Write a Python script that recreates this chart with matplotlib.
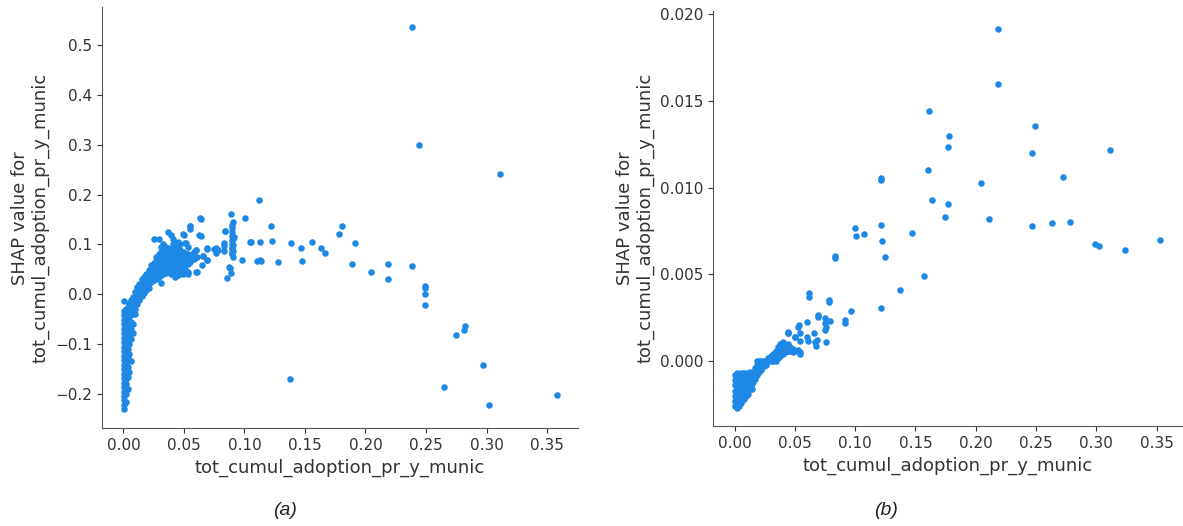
import matplotlib
matplotlib.use("Agg")
import matplotlib.pyplot as plt

# panel (a): SHAP values, sparse points
a_sparse_x = [0.2387, 0.2444, 0.3115, 0.1807, 0.1779, 0.1911, 0.1890, 0.2043, 0.2183, 0.2183,
              0.2384, 0.2494, 0.2494, 0.2494, 0.2494, 0.2826, 0.2815, 0.2747, 0.2969, 0.2650,
              0.3021, 0.3580, 0.1120, 0.0886, 0.1004, 0.1216, 0.1224, 0.1048, 0.1125, 0.1384,
              0.1562, 0.1466, 0.1636, 0.1664, 0.1477, 0.1274, 0.1125, 0.1106, 0.0979, 0.0872,
              0.0886, 0.0853, 0.0908, 0.0837, 0.0914, 0.1375, 0.0763, 0.0780, 0.0694, 0.0661,
              0.0688, 0.0647, 0.0831, 0.0831, 0.0639, 0.0639, 0.0633, 0.0548, 0.0548, 0.0622,
              0.0501, 0.0515, 0.0598, 0.0694, 0.0658, 0.0688, 0.0611, 0.0534, 0.0480, 0.0537,
              0.0606, 0.0749, 0.0763, 0.0837, 0.0831, 0.0880, 0.1134, 0.1051]
a_sparse_y = [0.535, 0.300, 0.242, 0.137, 0.121, 0.103, 0.061, 0.045, 0.061, 0.030,
              0.057, 0.017, 0.013, 0.000, -0.021, -0.064, -0.071, -0.081, -0.141, -0.186,
              -0.221, -0.202, 0.190, 0.162, 0.153, 0.138, 0.107, 0.105, 0.105, 0.103,
              0.104, 0.092, 0.092, 0.082, 0.066, 0.065, 0.069, 0.067, 0.069, 0.054,
              0.043, 0.033, 0.145, 0.127, 0.114, -0.169, 0.092, 0.089, 0.092, 0.077,
              0.068, 0.058, 0.103, 0.086, 0.151, 0.117, 0.153, 0.138, 0.130, 0.118,
              0.118, 0.103, 0.088, 0.091, 0.077, 0.069, 0.075, 0.062, 0.053, 0.040,
              0.045, 0.090, 0.083, 0.127, 0.097, 0.053, 0.067, 0.105]

# vertical strip at x = 0.0895
a_strip_x = [0.0895, 0.0895, 0.0895, 0.0895, 0.0895, 0.0895, 0.0895, 0.0895, 0.0895, 0.0895,
             0.0905, 0.0905, 0.0905, 0.0905]
a_strip_y = [0.140, 0.132, 0.124, 0.116, 0.108, 0.100, 0.095, 0.090, 0.085, 0.080,
             0.075, 0.110, 0.098, 0.087]

# dense part near the origin and along the rising curve
a_dense_x = [0.0005, 0.0005, 0.0005, 0.0005, 0.0005, 0.0005, 0.0005, 0.0005, 0.0005, 0.0005,
             0.0005, 0.0005, 0.0005, 0.0005, 0.0005, 0.0005, 0.0005, 0.0005, 0.0005, 0.0005,
             0.0005, 0.0005, 0.0005, 0.0005,
             0.002, 0.002, 0.002, 0.002, 0.002, 0.002, 0.002, 0.002, 0.002, 0.002,
             0.002, 0.002, 0.002, 0.002, 0.002, 0.002, 0.002, 0.002, 0.002,
             0.0035, 0.0035, 0.0035, 0.0035, 0.0035, 0.0035, 0.0035, 0.0035, 0.0035, 0.0035,
             0.0035, 0.0035,
             0.005, 0.005, 0.005, 0.005, 0.005, 0.005, 0.005, 0.005, 0.005, 0.005,
             0.0065, 0.0065, 0.0065, 0.0065, 0.0065, 0.0065, 0.0065, 0.0065,
             0.008, 0.008, 0.008, 0.008, 0.008, 0.008,
             0.0095, 0.0095, 0.0095, 0.0095, 0.0095,
             0.011, 0.011, 0.011, 0.011, 0.011,
             0.013, 0.013, 0.013, 0.013, 0.013,
             0.015, 0.015, 0.015, 0.015, 0.015,
             0.017, 0.017, 0.017, 0.017, 0.017,
             0.019, 0.019, 0.019, 0.019, 0.019,
             0.021, 0.021, 0.021, 0.021, 0.021,
             0.023, 0.023, 0.023, 0.023, 0.023,
             0.025, 0.025, 0.025, 0.025, 0.025, 0.025,
             0.027, 0.027, 0.027, 0.027, 0.027, 0.027,
             0.029, 0.029, 0.029, 0.029, 0.029, 0.029, 0.029,
             0.031, 0.031, 0.031, 0.031, 0.031, 0.031, 0.031, 0.031,
             0.033, 0.033, 0.033, 0.033, 0.033, 0.033, 0.033,
             0.035, 0.035, 0.035, 0.035, 0.035, 0.035, 0.035,
             0.037, 0.037, 0.037, 0.037, 0.037, 0.037, 0.037,
             0.039, 0.039, 0.039, 0.039, 0.039, 0.039, 0.039, 0.039,
             0.041, 0.041, 0.041, 0.041, 0.041, 0.041, 0.041, 0.041,
             0.043, 0.043, 0.043, 0.043, 0.043, 0.043, 0.043,
             0.045, 0.045, 0.045, 0.045, 0.045, 0.045, 0.045,
             0.047, 0.047, 0.047, 0.047, 0.047, 0.047,
             0.049, 0.049, 0.049, 0.049, 0.049, 0.049,
             0.051, 0.051, 0.051, 0.051, 0.051,
             0.053, 0.053, 0.053, 0.053, 0.053,
             0.055, 0.055, 0.055,
             0.058, 0.058, 0.058,
             0.060, 0.060, 0.060]
a_dense_y = [-0.230, -0.222, -0.212, -0.204, -0.195, -0.186, -0.177, -0.168, -0.159, -0.150,
             -0.141, -0.132, -0.123, -0.114, -0.105, -0.096, -0.087, -0.078, -0.069, -0.060,
             -0.051, -0.042, -0.033, -0.013,
             -0.215, -0.200, -0.190, -0.180, -0.170, -0.160, -0.150, -0.140, -0.130, -0.120,
             -0.110, -0.100, -0.090, -0.080, -0.070, -0.060, -0.050, -0.040, -0.030,
             -0.190, -0.165, -0.145, -0.125, -0.110, -0.095, -0.080, -0.065, -0.050, -0.040,
             -0.030, -0.025,
             -0.155, -0.120, -0.100, -0.085, -0.070, -0.055, -0.045, -0.035, -0.025, -0.018,
             -0.133, -0.090, -0.070, -0.055, -0.040, -0.030, -0.020, -0.012,
             -0.078, -0.060, -0.040, -0.028, -0.015, -0.005,
             -0.040, -0.030, -0.018, -0.005, 0.005,
             -0.020, -0.010, 0.000, 0.010, 0.015,
             -0.012, -0.003, 0.005, 0.012, 0.020,
             -0.004, 0.005, 0.015, 0.022, 0.030,
             0.002, 0.010, 0.020, 0.028, 0.035,
             0.008, 0.015, 0.025, 0.033, 0.040,
             0.012, 0.020, 0.030, 0.038, 0.048,
             0.025, 0.035, 0.042, 0.050, 0.058,
             0.028, 0.038, 0.046, 0.054, 0.062, 0.110,
             0.030, 0.040, 0.050, 0.058, 0.066, 0.075,
             0.035, 0.045, 0.053, 0.061, 0.070, 0.080, 0.111,
             0.022, 0.038, 0.048, 0.056, 0.064, 0.072, 0.085, 0.095,
             0.040, 0.050, 0.058, 0.066, 0.074, 0.090, 0.100,
             0.042, 0.052, 0.060, 0.068, 0.076, 0.085, 0.095,
             0.045, 0.055, 0.063, 0.070, 0.078, 0.088, 0.125,
             0.040, 0.050, 0.058, 0.065, 0.072, 0.080, 0.092, 0.118,
             0.045, 0.055, 0.062, 0.070, 0.078, 0.088, 0.100, 0.110,
             0.035, 0.050, 0.060, 0.068, 0.075, 0.085, 0.095,
             0.038, 0.052, 0.062, 0.070, 0.080, 0.090, 0.105,
             0.045, 0.058, 0.068, 0.078, 0.088, 0.100,
             0.040, 0.055, 0.065, 0.075, 0.085, 0.120,
             0.050, 0.062, 0.072, 0.082, 0.103,
             0.045, 0.060, 0.070, 0.080, 0.095,
             0.065, 0.078, 0.138,
             0.070, 0.085, 0.073,
             0.045, 0.075, 0.088]

# panel (b)
b_sparse_x = [0.2181, 0.2181, 0.2490, 0.2471, 0.3115, 0.2722, 0.2042, 0.2114, 0.2471, 0.2634,
              0.2786, 0.2993, 0.3021, 0.3236, 0.3532, 0.1609, 0.1602, 0.1634, 0.1775, 0.1772,
              0.1768, 0.1746, 0.1215, 0.1215, 0.1218, 0.1221, 0.1249, 0.1215, 0.1471, 0.1574,
              0.1368, 0.1002, 0.1008, 0.1074, 0.0833, 0.0833, 0.0961, 0.0915, 0.0918, 0.0782,
              0.0782, 0.0614, 0.0614, 0.0752, 0.0752, 0.0755, 0.0750, 0.0793, 0.0757, 0.0693,
              0.0688, 0.0680, 0.0674, 0.0666, 0.0597, 0.0602, 0.0608, 0.0655, 0.0530, 0.0540,
              0.0500, 0.0528, 0.0442, 0.0442, 0.0524, 0.0546, 0.0436, 0.0390, 0.0541, 0.0538]
b_sparse_y = [0.01912, 0.01595, 0.01354, 0.01200, 0.01216, 0.01062, 0.01024, 0.00818, 0.00776, 0.00794,
              0.00801, 0.00673, 0.00663, 0.00642, 0.00699, 0.01439, 0.01099, 0.00926, 0.01298, 0.01233,
              0.00906, 0.00830, 0.01057, 0.01041, 0.00784, 0.00692, 0.00598, 0.00305, 0.00736, 0.00492,
              0.00407, 0.00768, 0.00719, 0.00730, 0.00605, 0.00592, 0.00290, 0.00238, 0.00217, 0.00355,
              0.00342, 0.00390, 0.00371, 0.00246, 0.00217, 0.00198, 0.00180, 0.00229, 0.00113, 0.00265,
              0.00252, 0.00121, 0.00088, 0.00108, 0.00225, 0.00140, 0.00117, 0.00160, 0.00211, 0.00160,
              0.00140, 0.00198, 0.00165, 0.00170, 0.00063, 0.00054, 0.00063, 0.00096, 0.00115, 0.00040]

b_dense_x = [0.0005, 0.0005, 0.0005, 0.0005, 0.0005, 0.0005, 0.0005,
             0.002, 0.002, 0.002, 0.002, 0.002, 0.002, 0.002, 0.002,
             0.0035, 0.0035, 0.0035, 0.0035, 0.0035, 0.0035, 0.0035,
             0.005, 0.005, 0.005, 0.005, 0.005, 0.005, 0.005,
             0.0065, 0.0065, 0.0065, 0.0065, 0.0065, 0.0065,
             0.008, 0.008, 0.008, 0.008, 0.008, 0.008,
             0.0095, 0.0095, 0.0095, 0.0095, 0.0095,
             0.011, 0.011, 0.011, 0.011, 0.011,
             0.0125, 0.0125, 0.0125, 0.0125,
             0.014, 0.014, 0.014, 0.014,
             0.0155, 0.0155, 0.0155,
             0.017, 0.017, 0.017,
             0.0185, 0.0185, 0.0185, 0.0185,
             0.020, 0.020, 0.020,
             0.022, 0.022, 0.022,
             0.024, 0.024,
             0.026, 0.026,
             0.028, 0.028,
             0.030, 0.030,
             0.032, 0.032,
             0.034, 0.034, 0.034,
             0.036, 0.036, 0.036,
             0.038, 0.038, 0.038,
             0.040, 0.040, 0.040,
             0.042, 0.042,
             0.044, 0.044, 0.044,
             0.046, 0.046,
             0.048, 0.048,
             0.050, 0.050]
b_dense_y = [-0.0026, -0.0023, -0.0020, -0.0017, -0.0014, -0.0011, -0.0008,
             -0.0027, -0.0024, -0.0021, -0.0018, -0.0015, -0.0012, -0.0009, -0.0007,
             -0.0026, -0.0023, -0.0020, -0.0017, -0.0014, -0.0011, -0.0008,
             -0.0024, -0.0021, -0.0018, -0.0015, -0.0012, -0.0009, -0.0007,
             -0.0022, -0.0019, -0.0016, -0.0013, -0.0010, -0.0007,
             -0.0022, -0.0020, -0.0017, -0.0014, -0.0011, -0.0008,
             -0.0020, -0.0016, -0.0013, -0.0010, -0.0007,
             -0.0019, -0.0017, -0.0014, -0.0011, -0.0008,
             -0.0015, -0.0012, -0.0009, -0.0006,
             -0.0016, -0.0013, -0.0010, -0.0007,
             -0.0012, -0.0009, -0.0006,
             -0.0010, -0.0007, -0.0004,
             -0.0008, -0.0005, -0.0002, 0.0000,
             -0.0006, -0.0003, 0.0000,
             -0.0005, -0.0002, 0.0000,
             -0.0003, 0.0000,
             -0.0002, 0.0000,
             0.0000, 0.0002,
             0.0000, 0.0003,
             0.0000, 0.0004,
             0.0000, 0.0003, 0.0006,
             0.0002, 0.0005, 0.0008,
             0.0003, 0.0006, 0.0010,
             0.0004, 0.0007, 0.0011,
             0.0005, 0.0009,
             0.0006, 0.0010, 0.0016,
             0.0006, 0.0008,
             0.0005, 0.0007,
             0.0006, 0.0014]

feature = "tot_cumul_adoption_pr_y_munic"
blue = "#1E88E5"
axis_color = "#333333"

fig = plt.figure(figsize=(11.83, 5.26), dpi=100)
ax1 = fig.add_axes([0.086, 0.186, 0.403, 0.800])
ax2 = fig.add_axes([0.603, 0.190, 0.396, 0.790])

ax1.scatter(a_dense_x + a_strip_x + a_sparse_x, a_dense_y + a_strip_y + a_sparse_y,
            s=22, color=blue, linewidths=0)
ax2.scatter(b_dense_x + b_sparse_x, b_dense_y + b_sparse_y, s=22, color=blue, linewidths=0)

ax1.set_xlim(-0.0179, 0.376)
ax1.set_ylim(-0.268, 0.575)
ax1.set_xticks([0.0, 0.05, 0.1, 0.15, 0.2, 0.25, 0.3, 0.35])
ax1.set_yticks([-0.2, -0.1, 0.0, 0.1, 0.2, 0.3, 0.4, 0.5])
ax2.set_xlim(-0.0177, 0.371)
ax2.set_ylim(-0.00374, 0.0202)
ax2.set_xticks([0.0, 0.05, 0.1, 0.15, 0.2, 0.25, 0.3, 0.35])
ax2.set_yticks([0.0, 0.005, 0.01, 0.015, 0.02])

for ax in (ax1, ax2):
    ax.set_xlabel(feature, color=axis_color, fontsize=13)
    ax.set_ylabel("SHAP value for\n" + feature, color=axis_color, fontsize=13)
    ax.tick_params(labelsize=11, color=axis_color, labelcolor=axis_color)
    ax.spines["right"].set_visible(False)
    ax.spines["top"].set_visible(False)
    ax.spines["left"].set_color("#555555")
    ax.spines["bottom"].set_color("#555555")

fig.text(0.241, 0.030, "(a)", fontsize=14, style="italic", family="Liberation Sans",
         ha="center", va="center", color="#222222")
fig.text(0.749, 0.030, "(b)", fontsize=14, style="italic", family="Liberation Sans",
         ha="center", va="center", color="#222222")

fig.savefig("out.png", dpi=100)
